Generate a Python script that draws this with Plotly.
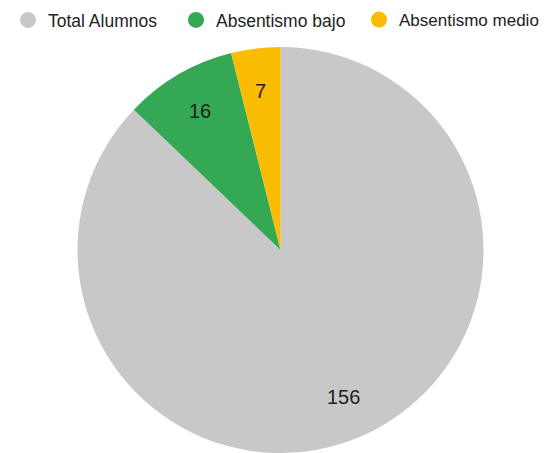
import math
import plotly.graph_objects as go

labels = ["Total Alumnos", "Absentismo bajo", "Absentismo medio"]
values = [156, 16, 7]
colors = ["#c8c8c8", "#34a853", "#fbbc04"]

W, H = 540, 445
M_L, M_R, M_T, M_B = 5, 0, 39, 0
FONT = "Liberation Sans, Arial, sans-serif"

fig = go.Figure()
fig.add_trace(go.Pie(
    labels=labels, values=values, sort=False, direction="clockwise", rotation=0,
    marker=dict(colors=colors, line=dict(width=0)),
    textinfo="none", hoverinfo="label+value", showlegend=False,
))

# label annotations at ~0.79 of the radius along each slice's mid angle
plot_w = W - M_L - M_R
plot_h = H - M_T - M_B
R = min(plot_w, plot_h) / 2
total = sum(values)
cum = 0
annotations = []
for v in values:
    mid = (cum + v / 2) / total * 2 * math.pi
    cum += v
    r = 0.79 * R
    annotations.append(dict(
        x=0.5 + r * math.sin(mid) / plot_w,
        y=0.5 + r * math.cos(mid) / plot_h,
        xref="paper", yref="paper", text=str(v), showarrow=False,
        xanchor="center", yanchor="middle",
        font=dict(family=FONT, size=20, color="#222222"),
    ))

# legend entries (one legend each for exact placement)
legend_names = ["legend", "legend2", "legend3"]
for lab, col, lg in zip(labels, colors, legend_names):
    fig.add_trace(go.Scatter(
        x=[None], y=[None], mode="markers", name=lab, legend=lg,
        marker=dict(color=col, size=16, symbol="circle"), showlegend=True,
        hoverinfo="skip",
    ))

leg_common = dict(orientation="h", xref="container", yref="container",
                  yanchor="middle", xanchor="left", y=1 - 12 / H,
                  bgcolor="rgba(0,0,0,0)", borderwidth=0,
                  font=dict(family=FONT, size=17.5, color="#222222"))
layout_legs = {
    "legend": dict(leg_common, x=0),
    "legend2": dict(leg_common, x=168 / W),
    "legend3": dict(leg_common, x=351 / W,
                    font=dict(family=FONT, size=17, color="#222222")),
}

fig.update_layout(
    width=W, height=H,
    margin=dict(l=M_L, r=M_R, t=M_T, b=M_B, autoexpand=False),
    paper_bgcolor="white", plot_bgcolor="white",
    xaxis=dict(visible=False), yaxis=dict(visible=False),
    annotations=annotations,
    **layout_legs,
)

fig.write_html("out.html")
